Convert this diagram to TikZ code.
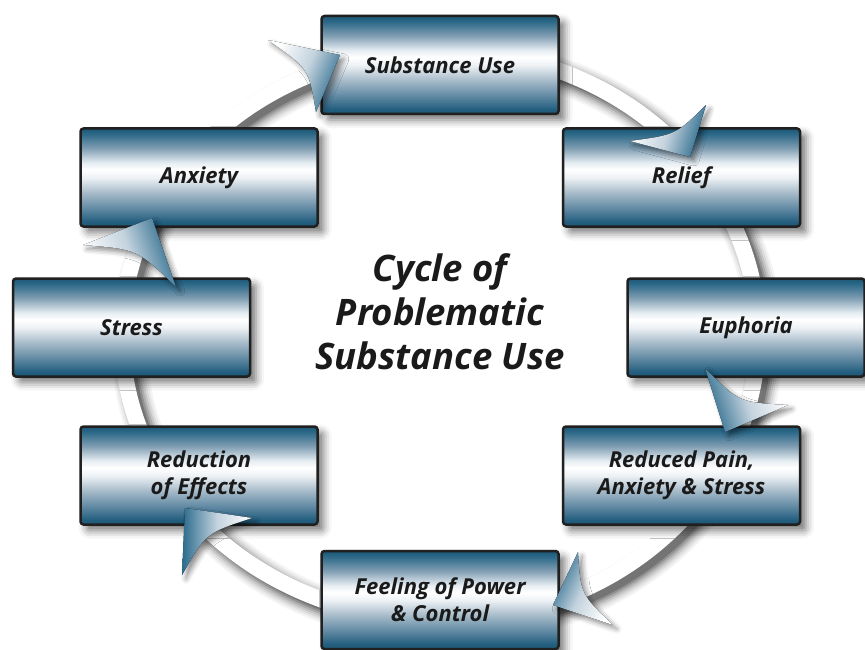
\documentclass[tikz,border=0pt]{standalone}
\usepackage{fontspec}
\setmainfont{Open Sans}
\usetikzlibrary{shadows.blur,calc}
\definecolor{c0}{HTML}{1B5675}
\definecolor{c1}{HTML}{245F7F}
\definecolor{c2}{HTML}{5F88A2}
\definecolor{c3}{HTML}{A9BDCB}
\definecolor{c4}{HTML}{EEF2F5}
\definecolor{c5}{HTML}{E6EDF2}
\definecolor{c6}{HTML}{7F9DB2}
\definecolor{c7}{HTML}{2E6A89}
\definecolor{bordc}{HTML}{202020}
\definecolor{txt}{HTML}{1A1A1A}
\definecolor{ab}{HTML}{2A6A8C}
\definecolor{am}{HTML}{C4D3DE}
\pgfdeclareverticalshading{boxshade}{100bp}{color(0bp)=(c0); color(25bp)=(c0); color(27.5bp)=(c1); color(34bp)=(c2); color(42.5bp)=(c3); color(50bp)=(c4); color(54bp)=(white); color(57.5bp)=(c5); color(65bp)=(c6); color(72bp)=(c7); color(75bp)=(c0); color(100bp)=(c0)}
\begin{document}
\begin{tikzpicture}[x=1pt,y=-1pt,
  box/.style={draw=bordc, line width=2.5pt, rounded corners=3pt, shade, shading=boxshade,
    minimum width=237pt, minimum height=98pt, inner sep=0pt, align=center,
    font=\fontsize{22}{27}\selectfont\bfseries\itshape, text=txt,
    blur shadow={shadow xshift=6pt, shadow yshift=-6pt, shadow blur radius=8pt, shadow opacity=55}},
  ahead/.style={top color=ab, bottom color=white, middle color=am,
    blur shadow={shadow xshift=4pt, shadow yshift=-4pt, shadow blur radius=5pt, shadow opacity=45}},
  ringshadow/.style={black, line width=#1},
  title/.style={font=\fontsize{36.5}{44}\selectfont\bfseries\itshape, text=txt, align=center}]
\useasboundingbox (0,0) rectangle (865,650);
% ring
\foreach \w/\o in {36/0.04, 32/0.05, 28/0.07, 24/0.09, 20/0.12, 16/0.16, 12/0.2}
  \draw[ringshadow=\w pt, opacity=\o] (447,342) ellipse [x radius=318, y radius=285];
\draw[white, line width=16pt] (440,335) ellipse [x radius=318, y radius=285];
% boxes
\node[box] (su)  at (440,65)    {Substance Use};
\node[box] (rel) at (681.5,177.5) {Relief};
\node[box] (eup) at (746,327.5) {Euphoria};
\node[box] (red) at (681.5,475.5) {Reduced Pain,\\Anxiety \& Stress};
\node[box] (fee) at (440,600)   {Feeling of Power\\\& Control};
\node[box] (roe) at (199,475.5) {Reduction\\of Effects};
\node[box] (str) at (131.5,327.5) {Stress};
\node[box] (anx) at (199,177.5) {Anxiety};
\node[title] (ttl) at (440,312) {Cycle of\\Problematic\\Substance Use};
% arrowheads
\fill[ahead, shading angle=-113] (268,40) -- (340,55) -- (316,112) .. controls (308.8,68.65) .. cycle;
\fill[ahead, shading angle=-107] (630,141) -- (690,157) -- (706,105) .. controls (675.7,134.9) .. cycle;
\fill[ahead, shading angle=107] (788,405) -- (725,432) -- (705,368) .. controls (739,402.4) .. cycle;
\fill[ahead, shading angle=65] (613,625) -- (553,605) -- (578,552) .. controls (580.6,594.3) .. cycle;
\fill[ahead, shading angle=90] (252,518) -- (185,508) -- (182,575) .. controls (205.8,533) .. cycle;
\fill[ahead, shading angle=-71] (83,245) -- (152,218) -- (176,287) .. controls (137.4,249.2) .. cycle;
\end{tikzpicture}
\end{document}
